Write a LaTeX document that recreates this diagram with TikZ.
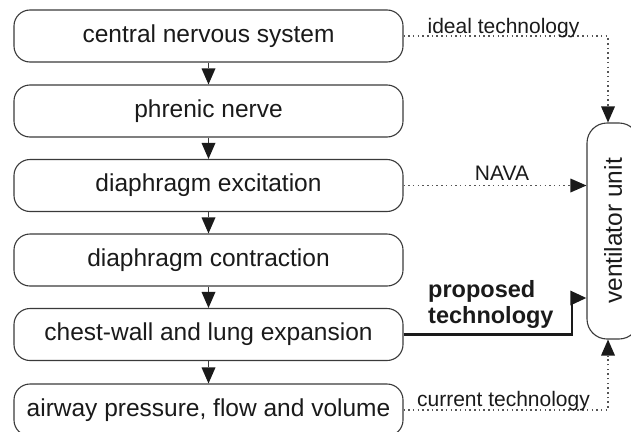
\documentclass[tikz,border=0pt]{standalone}
\usepackage{fontspec}
\setmainfont{Liberation Sans}
\usetikzlibrary{arrows.meta,calc}
\definecolor{linec}{HTML}{3A3A3A}
\definecolor{textc}{HTML}{1A1A1A}
\definecolor{dotc}{HTML}{555555}
\begin{document}
\begin{tikzpicture}[x=1pt,y=-1pt,
  stage/.style={draw=linec, line width=1.1pt, rounded corners=16pt, minimum width=389pt, minimum height=52pt, inner sep=0pt, font=\fontsize{24.5}{28}\selectfont, text=textc},
  flow/.style={draw=linec, line width=1.2pt, -{Triangle[length=16pt,width=14pt,fill=textc,line width=0pt]}},
  dotline/.style={draw=dotc, line width=1.5pt, dash pattern=on 1.5pt off 3.2pt, -{Triangle[length=16pt,width=14pt,fill=textc,line width=0pt]}},
  lab/.style={font=\fontsize{21}{24}\selectfont, text=textc, inner sep=0pt},
  labbold/.style={font=\fontsize{23.5}{26}\selectfont\bfseries, text=textc, inner sep=0pt},
  ]
\clip (0,0) rectangle (631,431);
\useasboundingbox (0,0) rectangle (631,431);

\node[stage] (b1) at (208.5,36) {central nervous system};
\node[stage] (b2) at (208.5,111) {phrenic nerve};
\node[stage] (b3) at (208.5,185.5) {diaphragm excitation};
\node[stage] (b4) at (208.5,260) {diaphragm contraction};
\node[stage] (b5) at (208.5,334.5) {chest-wall and lung expansion};
\node[stage] (b6) at (208.5,410) {airway pressure, flow and volume};

\node[draw=linec, line width=1.1pt, rounded corners=20pt, minimum width=52pt, minimum height=216pt, inner sep=0pt, font=\fontsize{24.5}{28}\selectfont, text=textc] (vent) at (613,231) {\rotatebox{90}{ventilator unit}};

\draw[flow] (b1) -- (b2);
\draw[flow] (b2) -- (b3);
\draw[flow] (b3) -- (b4);
\draw[flow] (b4) -- (b5);
\draw[flow] (b5) -- (b6);

\coordinate (vx) at (608,0);
\coordinate (px) at (572,0);
\coordinate (py) at (0,298);

\draw[dotline] (b1.east) -| (vx |- vent.north);
\draw[dotline] (b3.east) -- (b3.east -| vent.west);
\draw[draw=textc, line width=2.8pt, -{Triangle[length=16pt,width=14pt]}] (b5.east) -| (px |- py) -- (vent.west |- py);
\draw[dotline] (b6.east) -| (vx |- vent.south);

\node[lab, anchor=base] (lideal) at (503.5,33) {ideal technology};
\node[lab, anchor=base] (lnava) at (502,180) {NAVA};
\node[labbold, anchor=base west] (lprop1) at (428,297) {proposed};
\node[labbold, anchor=base west] (lprop2) at (428,323) {technology};
\node[lab, anchor=base] (lcur) at (503.5,406) {current technology};
\end{tikzpicture}
\end{document}
